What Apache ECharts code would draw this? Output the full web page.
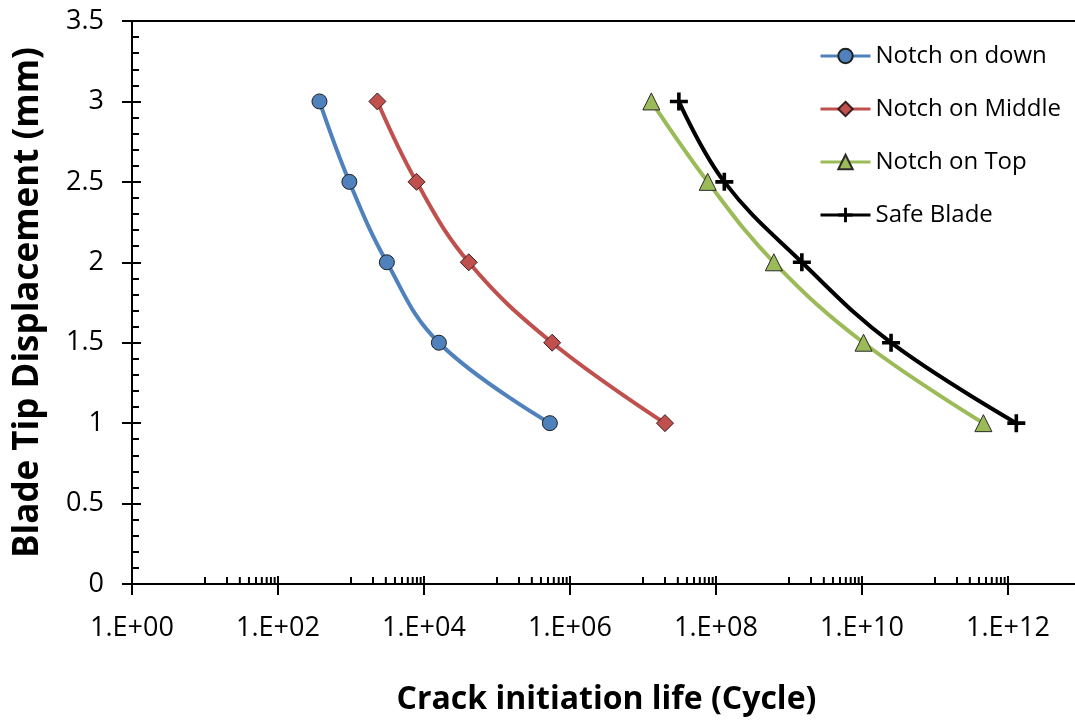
<!DOCTYPE html>
<html>
<head>
<meta charset="utf-8" />
<title>Crack initiation life</title>
<script type="text/javascript" src="https://cdn.jsdelivr.net/npm/echarts@6/dist/echarts.min.js"></script>
<style>
html, body { margin: 0; padding: 0; background: #fff; }
#main { width: 1075px; height: 723px; }
</style>
</head>
<body>
<div id="main"></div>
<script type="text/javascript">
// blade tip displacement levels (mm)
var displacement = [3, 2.5, 2, 1.5, 1];
// crack initiation life (cycles)
var notchDown   = [370, 950, 3100, 16000, 530000];
var notchMiddle = [2300, 7900, 41000, 570000, 2.0e7];
var notchTop    = [1.3e7, 7.7e7, 6.2e8, 1.05e10, 4.6e11];
var safeBlade   = [3.1e7, 1.3e8, 1.5e9, 2.5e10, 1.3e12];
var seriesNames = ['Notch on down', 'Notch on Middle', 'Notch on Top', 'Safe Blade'];
// major tick labels, one every two decades
var xTickLabels = ['1.E+00', '1.E+02', '1.E+04', '1.E+06', '1.E+08', '1.E+10', '1.E+12'];
// minor ticks sit at 10..90 times each major tick
var minorSteps = [10, 20, 30, 40, 50, 60, 70, 80, 90];
var majorTicks = [1, 1e2, 1e4, 1e6, 1e8, 1e10, 1e12];

var FONT = 'Open Sans';

function pairs(xs) {
    var out = [];
    for (var i = 0; i < xs.length; i++) {
        out.push([xs[i], displacement[i]]);
    }
    return out;
}

var minorTickData = [];
majorTicks.forEach(function (m) {
    minorSteps.forEach(function (s) {
        if (m * s < 1e13) minorTickData.push([m * s, 0]);
    });
});

var plusPath = 'path://M4,0h2v4h4v2h-4v4h-2v-4h-4v-2h4z';

function lineSeries(name, data, color, symbol, size, border) {
    return {
        name: name,
        type: 'line',
        data: pairs(data),
        smooth: 0.4,
        symbol: symbol,
        symbolSize: size,
        showAllSymbol: true,
        lineStyle: { color: color, width: 4 },
        itemStyle: { color: color, borderColor: border, borderWidth: border ? 1 : 0 },
        emphasis: { disabled: true },
        z: 3
    };
}

var myChart = echarts.init(document.getElementById('main'), null, { renderer: 'canvas' });

myChart.setOption({
    animation: false,
    backgroundColor: '#fff',
    textStyle: { fontFamily: FONT },
    grid: {
        left: 132,
        top: 21,
        bottom: 139,
        right: -6,
        show: true,
        borderColor: '#000',
        borderWidth: 2,
        outerBoundsMode: 'none',
        containLabel: false
    },
    legend: {
        orient: 'vertical',
        left: 819,
        top: 44,
        padding: 0,
        itemWidth: 50,
        itemHeight: 18,
        itemGap: 29,
        data: seriesNames,
        lineStyle: { width: 3 },
        textStyle: { fontFamily: FONT, fontSize: 24, color: '#000', lineHeight: 18 }
    },
    xAxis: [
        {
            type: 'log',
            logBase: 10,
            min: 1,
            max: 1e13,
            interval: 2,
            name: 'Crack initiation life (Cycle)',
            nameLocation: 'middle',
            nameGap: 100,
            nameTextStyle: { fontFamily: FONT, fontSize: 32, fontWeight: 'bold', color: '#000' },
            axisLine: { show: true, lineStyle: { color: '#000', width: 2 } },
            axisTick: { show: true, inside: true, length: 8, lineStyle: { color: '#000', width: 2 } },
            axisLabel: {
                margin: 31,
                fontSize: 27,
                color: '#000',
                fontFamily: FONT,
                showMaxLabel: false,
                formatter: function (v) {
                    var e = Math.round(Math.log(v) / Math.LN10);
                    if (e % 2 !== 0) return '';
                    return xTickLabels[e / 2] || '';
                }
            },
            splitLine: { show: false }
        },
        {
            type: 'log',
            logBase: 10,
            min: 1,
            max: 1e13,
            interval: 2,
            position: 'bottom',
            axisLine: { show: false },
            axisTick: { show: true, inside: false, length: 11, lineStyle: { color: '#000', width: 2 } },
            axisLabel: { show: false },
            splitLine: { show: false }
        }
    ],
    yAxis: [
        {
            type: 'value',
            min: 0,
            max: 3.5,
            interval: 0.5,
            position: 'left',
            name: 'Blade Tip Displacement (mm)',
            nameLocation: 'middle',
            nameGap: 86,
            nameRotate: 90,
            nameTextStyle: { fontFamily: FONT, fontSize: 35, fontWeight: 'bold', color: '#000' },
            axisLine: { show: true, lineStyle: { color: '#000', width: 2 } },
            axisTick: { show: true, inside: true, length: 9, lineStyle: { color: '#000', width: 2 } },
            minorTick: { show: true, splitNumber: 5, length: 7, lineStyle: { color: '#000', width: 2 } },
            axisLabel: { margin: 28, fontSize: 27, color: '#000', fontFamily: FONT },
            splitLine: { show: false }
        },
        {
            type: 'value',
            min: 0,
            max: 3.5,
            interval: 0.5,
            position: 'left',
            axisLine: { show: false },
            axisTick: { show: true, inside: false, length: 10, lineStyle: { color: '#000', width: 2 } },
            axisLabel: { show: false },
            splitLine: { show: false }
        }
    ],
    series: [
        lineSeries(seriesNames[0], notchDown, '#4f81bd', 'circle', 15, '#1f1f1f'),
        lineSeries(seriesNames[1], notchMiddle, '#c0504d', 'diamond', 17, '#3a1f1f'),
        lineSeries(seriesNames[2], notchTop, '#9bbb59', 'triangle', 17, '#2a2a2a'),
        lineSeries(seriesNames[3], safeBlade, '#000000', plusPath, 18, null),
        {
            name: 'minorTicks',
            type: 'custom',
            silent: true,
            clip: false,
            z: 4,
            data: minorTickData,
            renderItem: function (params, api) {
                var p = api.coord([api.value(0), api.value(1)]);
                return {
                    type: 'line',
                    shape: { x1: p[0], y1: p[1], x2: p[0], y2: p[1] - 7 },
                    style: { stroke: '#000', lineWidth: 2 }
                };
            }
        }
    ]
});
</script>
</body>
</html>
